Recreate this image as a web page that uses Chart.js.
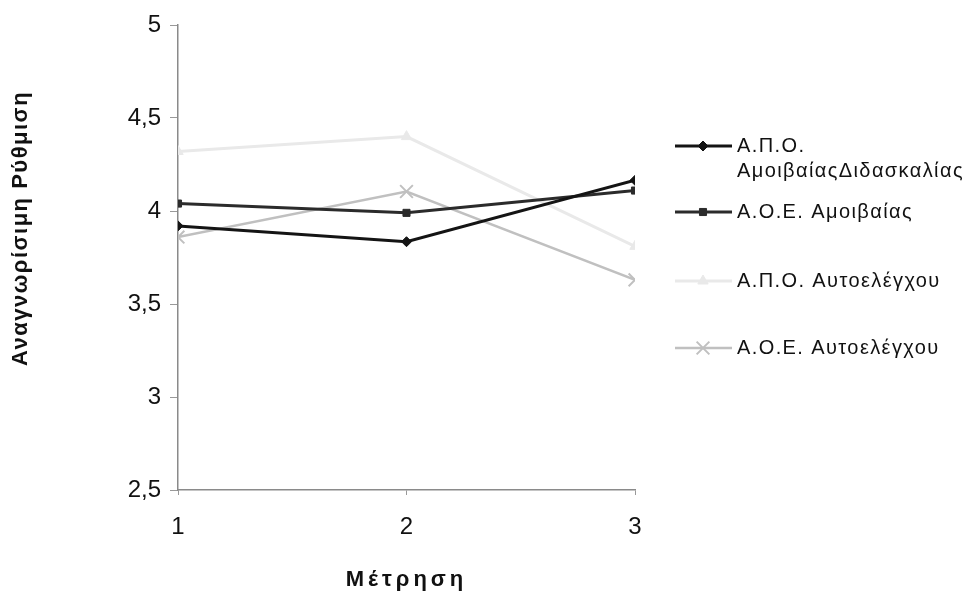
<!DOCTYPE html>
<html>
<head>
<meta charset="utf-8">
<script src="https://cdn.jsdelivr.net/npm/chart.js@4/dist/chart.umd.min.js"></script>
<style>
html,body{margin:0;padding:0;background:#fff;}
#wrap{width:975px;height:594px;position:relative;}
</style>
</head>
<body>
<div id="wrap"><canvas id="c" width="975" height="594"></canvas></div>
<script>
const measurements = [1, 2, 3];
const seriesNames = [
  ['Α.Π.Ο.', 'ΑμοιβαίαςΔιδασκαλίας'],
  ['Α.Ο.Ε. Αμοιβαίας'],
  ['Α.Π.Ο. Αυτοελέγχου'],
  ['Α.Ο.Ε. Αυτοελέγχου']
];
const apoAmoivaias = [3.92, 3.835, 4.165];
const aoeAmoivaias = [4.04, 3.99, 4.11];
const apoAftoelegxou = [4.32, 4.40, 3.81];
const aoeAftoelegxou = [3.86, 4.105, 3.63];
const yTicks = [2.5, 3, 3.5, 4, 4.5, 5];
const xTitle = 'Μέτρηση';
const yTitle = 'Αναγνωρίσιμη Ρύθμιση';

const FONT = '"Liberation Sans", Arial, sans-serif';
const styles = [
  {color: '#141414', point: 'rectRot', radius: 5, width: 3},
  {color: '#2b2b2b', point: 'rect', radius: 5, width: 3},
  {color: '#e9e9e9', point: 'triangle', radius: 6, width: 3},
  {color: '#c0c0c0', point: 'crossRot', radius: 9, width: 2.5}
];
const allSeries = [apoAmoivaias, aoeAmoivaias, apoAftoelegxou, aoeAftoelegxou];

const datasets = allSeries.map((vals, i) => ({
  label: seriesNames[i].join(' '),
  data: vals.map((v, j) => ({x: measurements[j], y: v})),
  borderColor: styles[i].color,
  backgroundColor: styles[i].color,
  borderWidth: styles[i].width,
  pointStyle: styles[i].point,
  pointRadius: styles[i].radius,
  pointBorderWidth: styles[i].point === 'crossRot' ? 2 : 1,
  pointBorderColor: styles[i].color,
  pointBackgroundColor: styles[i].color,
  tension: 0,
  fill: false
}));

const titleSpacing = {
  id: 'titleSpacing',
  beforeDraw(chart) {
    const cfg = {x: {ls: '4px', dy: 0}, y: {ls: '1.5px', dy: -29}};
    Object.keys(cfg).forEach(id => {
      const s = chart.scales[id];
      if (!s || s._patchedTitle) return;
      const orig = s.drawTitle;
      s.drawTitle = function () {
        const c = this.ctx;
        c.save();
        c.letterSpacing = cfg[id].ls;
        c.translate(0, cfg[id].dy);
        orig.apply(this, arguments);
        c.restore();
      };
      s._patchedTitle = true;
    });
  }
};

const sideLegend = {
  id: 'sideLegend',
  afterDraw(chart) {
    const ctx = chart.ctx;
    const ca = chart.chartArea;
    const x0 = ca.right + 40, x1 = ca.right + 97, mx = ca.right + 68, tx = ca.right + 102;
    const ys = [146, 212, 281, 348];
    ctx.save();
    chart.data.datasets.forEach((ds, i) => {
      const y = ys[i];
      ctx.strokeStyle = ds.borderColor;
      ctx.fillStyle = ds.backgroundColor;
      ctx.lineWidth = ds.borderWidth;
      ctx.beginPath(); ctx.moveTo(x0, y); ctx.lineTo(x1, y); ctx.stroke();
      ctx.lineWidth = ds.pointBorderWidth;
      Chart.helpers.drawPoint(ctx, {
        pointStyle: ds.pointStyle, radius: ds.pointRadius, rotation: 0,
        borderWidth: ds.pointBorderWidth
      }, mx, y);
      ctx.fillStyle = '#111';
      ctx.font = '20px ' + FONT;
      ctx.letterSpacing = '1.4px';
      ctx.textBaseline = 'middle';
      ctx.textAlign = 'left';
      seriesNames[i].forEach((line, k) => ctx.fillText(line, tx, y + k * 25));
      ctx.letterSpacing = '0px';
    });
    ctx.restore();
  }
};

new Chart(document.getElementById('c'), {
  type: 'line',
  data: {datasets},
  options: {
    responsive: false,
    animation: false,
    layout: {padding: {left: 0, right: 340, top: 25, bottom: 0}},
    plugins: {legend: {display: false}, tooltip: {enabled: false}},
    scales: {
      x: {
        type: 'linear', min: 1, max: 3,
        afterFit(s) { s.height = 104; },
        ticks: {stepSize: 1, color: '#111', padding: 18,
          font: {family: FONT, size: 24}},
        grid: {drawOnChartArea: false, drawTicks: true, tickLength: 5, color: '#999'},
        border: {display: true, color: '#8a8a8a', width: 1.5},
        title: {display: true, text: xTitle, color: '#111', padding: {top: 4, bottom: 1},
          font: {family: FONT, size: 22, weight: 'bold'}}
      },
      y: {
        type: 'linear', min: 2.5, max: 5,
        afterFit(s) { s.width = 178; },
        afterBuildTicks(s) { s.ticks = yTicks.map(v => ({value: v})); },
        ticks: {color: '#111', padding: 9,
          callback: v => String(v).replace('.', ','),
          font: {family: FONT, size: 24}},
        grid: {drawOnChartArea: false, drawTicks: true, tickLength: 8, color: '#999'},
        border: {display: true, color: '#8a8a8a', width: 1.5},
        title: {display: true, text: yTitle, color: '#111', padding: {top: 8, bottom: 4},
          font: {family: FONT, size: 22, weight: 'bold'}}
      }
    }
  },
  plugins: [titleSpacing, sideLegend]
});
</script>
</body>
</html>
